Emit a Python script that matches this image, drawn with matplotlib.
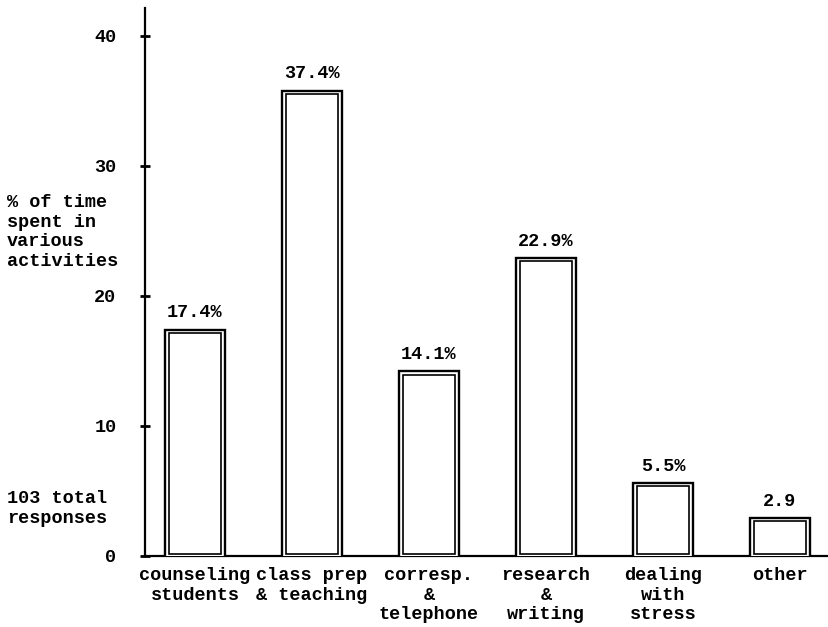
import matplotlib.pyplot as plt
import numpy as np

categories = ['counseling\nstudents', 'class prep\n& teaching', 'corresp.\n&\ntelephone',
              'research\n&\nwriting', 'dealing\nwith\nstress', 'other']
# bar heights as drawn in the original, and the printed labels
bar_heights = [17.4, 35.8, 14.2, 22.9, 5.6, 2.9]
value_labels = ['17.4%', '37.4%', '14.1%', '22.9%', '5.5%', '2.9']
yticks = [0, 10, 20, 30, 40]

plt.rcParams['font.family'] = ['Liberation Mono', 'DejaVu Sans Mono']
plt.rcParams['font.weight'] = 'bold'
fs = 13.3

fig = plt.figure(figsize=(8.29, 6.27), dpi=100)
ax = fig.add_axes([145 / 829, 71 / 627, 684 / 829, 548 / 627])

x = np.arange(len(categories))
w = 0.51
# outer outline
ax.bar(x, np.array(bar_heights) + 0.15, bottom=-0.15, width=w, facecolor='white',
       edgecolor='black', linewidth=1.7, zorder=3)
# inner outline (double-line look)
ax.bar(x, np.array(bar_heights) - 0.38, bottom=0.14, width=w - 0.06, facecolor='white',
       edgecolor='black', linewidth=1.2, zorder=4)

for xi, h, lab in zip(x, bar_heights, value_labels):
    ax.annotate(lab, (xi, h), xytext=(0, 6), textcoords='offset points',
                ha='center', va='bottom', fontsize=fs, fontweight='bold')

ax.set_xlim(-0.427, 5.419)
ax.set_ylim(0, 42.15)
ax.set_yticks(yticks)
ax.set_yticklabels([str(t) for t in yticks])
ax.set_xticks(x)
ax.set_xticklabels(categories, linespacing=1.2)

ax.spines['top'].set_visible(False)
ax.spines['right'].set_visible(False)
ax.spines['left'].set_linewidth(1.6)
ax.spines['bottom'].set_linewidth(1.6)
ax.spines['bottom'].set_zorder(1)
ax.tick_params(axis='y', direction='inout', length=7, width=2, pad=17, labelsize=fs)
ax.tick_params(axis='x', length=0, pad=8, labelsize=fs)

fig.text(7 / 829, 1 - 194 / 627, '% of time\nspent in\nvarious\nactivities',
         ha='left', va='top', fontsize=fs, linespacing=1.2)
fig.text(7 / 829, 1 - 490 / 627, '103 total\nresponses',
         ha='left', va='top', fontsize=fs, linespacing=1.2)

plt.savefig('out.png', dpi=100, facecolor='white')
